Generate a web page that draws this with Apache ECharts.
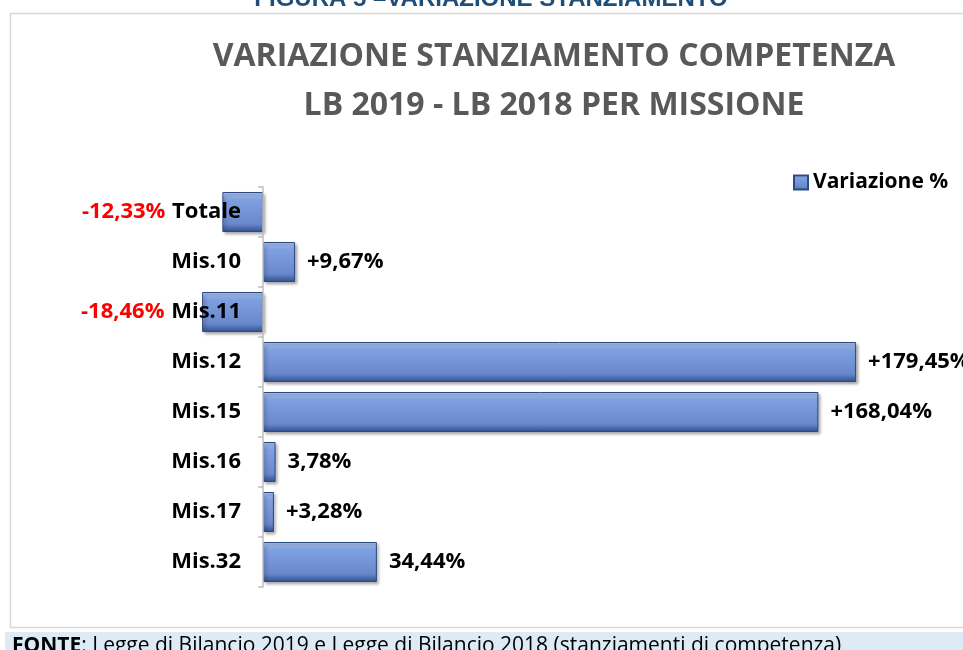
<!DOCTYPE html>
<html>
<head>
<meta charset="utf-8">
<script src="https://cdn.jsdelivr.net/npm/echarts@6/dist/echarts.min.js"></script>
<style>
    html, body { margin: 0; padding: 0; background: #fff; }
    #chart { width: 963px; height: 650px; }
</style>
</head>
<body>
<div id="chart"></div>
<script>
// Data
const categories = ['Totale', 'Mis.10', 'Mis.11', 'Mis.12', 'Mis.15', 'Mis.16', 'Mis.17', 'Mis.32'];
const values = [-12.33, 9.67, -18.46, 179.45, 168.04, 3.78, 3.28, 34.44];
const valueLabels = ['-12,33%', '+9,67%', '-18,46%', '+179,45%', '+168,04%', '3,78%', '+3,28%', '34,44%'];

const font = '"Open Sans", Lato, sans-serif';

document.addEventListener('DOMContentLoaded', function() {
    const myChart = echarts.init(document.getElementById('chart'));

    const barColor = new echarts.graphic.LinearGradient(0, 0, 0, 1, [
        { offset: 0, color: '#B3C7EE' },
        { offset: 0.18, color: '#7FA0E0' },
        { offset: 0.8, color: '#6888CC' },
        { offset: 1, color: '#324F8C' }
    ]);

    const option = {
        animation: false,
        title: {
            text: 'VARIAZIONE STANZIAMENTO COMPETENZA\nLB 2019 - LB 2018 PER MISSIONE',
            left: 549,
            top: 27,
            textAlign: 'center',
            textStyle: {
                fontFamily: font,
                fontSize: 32,
                fontWeight: 'bold',
                color: '#595959',
                lineHeight: 49
            }
        },
        legend: {
            left: 788,
            top: 167,
            itemWidth: 14,
            itemHeight: 14,
            itemGap: 6,
            icon: 'rect',
            textStyle: {
                fontFamily: font,
                fontSize: 21,
                fontWeight: 'bold',
                color: '#000'
            },
            data: ['Variazione %']
        },
        grid: {
            left: 197,
            right: 39,
            top: 187,
            height: 400
        },
        xAxis: {
            type: 'value',
            min: -20,
            max: 200,
            show: false
        },
        yAxis: {
            type: 'category',
            inverse: true,
            data: categories,
            z: 5,
            axisLine: { lineStyle: { color: '#BFBFBF', width: 1.5 } },
            axisTick: { show: true, length: 5, lineStyle: { color: '#BFBFBF', width: 1.5 } },
            axisLabel: {
                // labels sit at the grid edge, shift them next to the zero line
                margin: -44,
                formatter: function(name, idx) {
                    if (values[idx] < 0) {
                        return '{neg|' + valueLabels[idx] + '}  {cat|' + name + '}';
                    }
                    return '{cat|' + name + '}';
                },
                rich: {
                    cat: { fontFamily: font, fontSize: 22, fontWeight: 'bold', color: '#000' },
                    neg: { fontFamily: font, fontSize: 22, fontWeight: 'bold', color: '#FF0000' }
                }
            }
        },
        series: [{
            name: 'Variazione %',
            type: 'bar',
            data: values,
            barWidth: 40,
            z: 3,
            itemStyle: {
                color: barColor,
                borderColor: '#2C4A85',
                borderWidth: 1,
                shadowColor: 'rgba(0,0,0,0.35)',
                shadowBlur: 3,
                shadowOffsetX: 2,
                shadowOffsetY: 2
            },
            label: {
                show: true,
                position: 'right',
                distance: 12,
                fontFamily: font,
                fontSize: 22,
                fontWeight: 'bold',
                color: '#000',
                formatter: function(p) {
                    return values[p.dataIndex] < 0 ? '' : valueLabels[p.dataIndex];
                }
            }
        }],
        graphic: [
            {
                type: 'rect',
                shape: { x: 10.5, y: 13.5, width: 970, height: 614 },
                style: { fill: 'none', stroke: '#D9D9D9', lineWidth: 1.5 },
                z: -1
            },
            {
                type: 'text',
                x: 491,
                y: -13,
                style: {
                    text: 'FIGURA 5 \u2013VARIAZIONE STANZIAMENTO',
                    align: 'center',
                    fontFamily: 'Liberation Sans, Arial, sans-serif',
                    fontSize: 24,
                    fontWeight: 'bold',
                    fill: '#1F4E79'
                }
            },
            {
                type: 'rect',
                shape: { x: 5, y: 632, width: 958, height: 18 },
                style: { fill: '#DDEBF7' },
                z: -1
            },
            {
                type: 'text',
                left: 12,
                top: 636,
                style: {
                    text: '{b|FONTE}: Legge di Bilancio 2019 e Legge di Bilancio 2018 (stanziamenti di competenza)',
                    rich: {
                        b: { fontFamily: font, fontSize: 21, fontWeight: 'bold', fill: '#000' }
                    },
                    fontFamily: font,
                    fontSize: 21,
                    fill: '#000'
                }
            }
        ]
    };

    myChart.setOption(option);
});
</script>
</body>
</html>
